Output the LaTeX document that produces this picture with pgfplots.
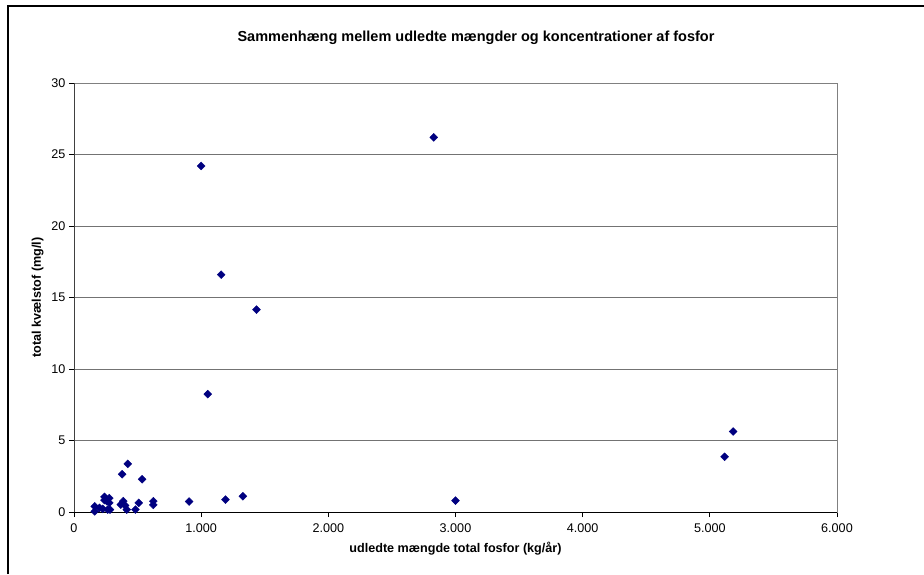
\documentclass[border=0pt]{standalone}
\usepackage{fontspec}
\setmainfont{Liberation Sans}
\usepackage{pgfplots}
\pgfplotsset{compat=1.18}
\definecolor{navy}{RGB}{0,0,128}
\begin{document}
\begin{tikzpicture}
\useasboundingbox (0pt,0pt) rectangle (924pt,-574pt);
% chart frame (only left and top edges are in view)
\draw[line width=1.3pt] (8pt,-574pt) -- (8pt,-6pt) -- (924pt,-6pt);
\node[font=\fontsize{14.5}{16}\selectfont\bfseries] at (476pt,-38pt) {Sammenhæng mellem udledte mængder og koncentrationer af fosfor};
\begin{axis}[
  at={(74pt,-512pt)}, anchor=south west,
  scale only axis, width=763pt, height=429pt,
  xmin=0, xmax=6000, ymin=0, ymax=30,
  xtick={0,1000,2000,3000,4000,5000,6000},
  ytick={0,5,10,15,20,25,30},
  scaled x ticks=false,
  /pgf/number format/1000 sep={.},
  /pgf/number format/assume math mode=true,
  tick label style={font=\fontsize{12.6}{14}\selectfont},
  xticklabel style={yshift=-3pt},
  tick align=outside, tick pos=left,
  major tick length=5pt,
  tick style={black, line width=0.8pt},
  axis lines=box,
  axis line style={black!50, line width=0.8pt},
  ymajorgrids, grid style={black!55, line width=0.7pt},
  xlabel={\bfseries udledte mængde total fosfor (kg/år)},
  ylabel={\bfseries total kvælstof (mg/l)},
  label style={font=\fontsize{12.6}{14}\selectfont},
  xlabel style={yshift=-3pt},
  ylabel style={yshift=1pt},
  clip=false,
]
\draw[black, line width=1pt] (rel axis cs:0,0) -- (rel axis cs:1,0);
\draw[black!75, line width=1pt] (rel axis cs:0,0) -- (rel axis cs:0,1);
\addplot[only marks, mark=square*, mark size=2.8pt,
  mark options={rotate=45, fill=navy, draw=navy}] coordinates {
  (2829,26.2) (1000,24.2) (1157,16.6) (1435,14.15) (1052,8.24)
  (5184,5.63) (5116,3.86) (3000,0.80)
  (905,0.73) (1191,0.87) (1328,1.10)
  (163,0.40) (163,0.05) (200,0.29) (226,0.22)
  (239,1.06) (239,0.83) (257,0.76) (278,0.97) (278,0.64)
  (265,0.17) (283,0.17)
  (423,3.37) (378,2.64) (535,2.29)
  (388,0.76) (368,0.52) (402,0.45) (415,0.17) (483,0.17)
  (509,0.64) (624,0.76) (624,0.50)
};
\end{axis}
\end{tikzpicture}
\end{document}
